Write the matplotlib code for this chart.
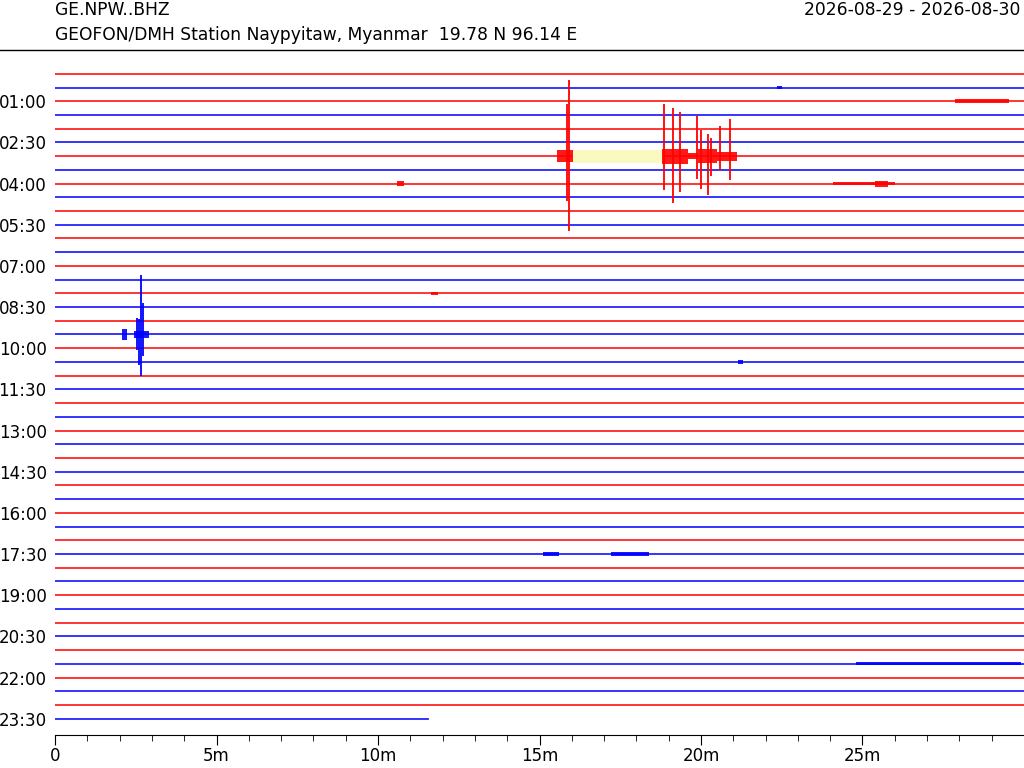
import matplotlib
matplotlib.use("Agg")
import matplotlib.pyplot as plt
from matplotlib.lines import Line2D
from matplotlib.ticker import MultipleLocator

# 48 half-hour traces, even = red, odd = blue
n_lines = 48
last_line_end = 11.55  # minutes of data in the last trace
hour_labels = ["01:00", "02:30", "04:00", "05:30", "07:00", "08:30", "10:00", "11:30",
               "13:00", "14:30", "16:00", "17:30", "19:00", "20:30", "22:00", "23:30"]
label_lines = [2, 5, 8, 11, 14, 17, 20, 23, 26, 29, 32, 35, 38, 41, 44, 47]

# spikes: trace, minute, up, down (in trace spacings)
spike_line = [6, 6, 6, 6, 6, 6, 6, 6, 6, 6, 6, 19, 19, 19, 19]
spike_min = [15.91, 15.85, 18.85, 19.13, 19.35, 19.88, 20.0, 20.22, 20.31, 20.59, 20.90,
             2.65, 2.54, 2.72, 2.60]
spike_up = [5.55, 3.80, 3.80, 3.50, 3.20, 2.92, 1.90, 1.60, 1.32, 2.20, 2.70,
            4.30, 1.17, 2.33, 1.10]
spike_down = [5.45, 3.27, 2.47, 3.42, 2.62, 1.67, 2.40, 2.84, 1.45, 1.02, 1.75,
              3.06, 1.10, 1.60, 2.20]

# noisy bursts: trace, start, end, half width (in trace spacings)
burst_line = [6, 6, 6, 6, 6, 19, 19, 2, 8, 8, 8, 1, 35, 35, 43, 16, 21]
burst_t0 = [15.55, 18.80, 19.60, 19.90, 20.50, 2.08, 2.45, 27.85, 10.60, 24.10, 25.40, 22.35,
            15.10, 17.20, 24.80, 11.65, 21.15]
burst_t1 = [16.05, 19.60, 19.90, 20.50, 21.10, 2.23, 2.90, 29.55, 10.80, 26.00, 25.80, 22.50,
            15.60, 18.40, 29.90, 11.85, 21.30]
burst_hw = [0.42, 0.55, 0.20, 0.50, 0.32, 0.40, 0.28, 0.14, 0.20, 0.12, 0.22, 0.14,
            0.14, 0.12, 0.12, 0.12, 0.14]

# yellow marked window on the 03:00 trace
mark_line = 6
mark_t0, mark_t1 = 16.0, 18.82
mark_lo, mark_hi = -0.50, 0.45

fig = plt.figure(figsize=(10.24, 7.68), dpi=100)
ax = fig.add_axes([55 / 1024, 1 - 735 / 768, 1 - 55 / 1024, 680 / 768])

for i in range(n_lines):
    c = "red" if i % 2 == 0 else "blue"
    end = last_line_end if i == n_lines - 1 else 30
    ax.plot([0, end], [-i, -i], color=c, lw=1.3, alpha=0.85)

ax.fill_between([mark_t0, mark_t1], -mark_line + mark_lo, -mark_line + mark_hi,
                color="#fafac0", lw=0, zorder=3)

for ln, t0, t1, hw in zip(burst_line, burst_t0, burst_t1, burst_hw):
    c = "red" if ln % 2 == 0 else "blue"
    ax.fill_between([t0, t1], -ln - hw, -ln + hw, color=c, lw=0, alpha=0.9, zorder=4)

for ln, t, up, dn in zip(spike_line, spike_min, spike_up, spike_down):
    c = "red" if ln % 2 == 0 else "blue"
    ax.vlines(t, -ln - dn, -ln + up, color=c, lw=1.3, zorder=5)

ax.set_xlim(0, 30)
ax.set_ylim(-48.19, 1.37)
ax.set_yticks([-l for l in label_lines])
ax.set_yticklabels(hour_labels, fontsize=12)
ax.tick_params(axis="y", length=0, pad=6)
ax.xaxis.set_major_locator(MultipleLocator(5))
ax.xaxis.set_minor_locator(MultipleLocator(1))
ax.set_xticks([0, 5, 10, 15, 20, 25])
ax.set_xticklabels(["0", "5m", "10m", "15m", "20m", "25m"], fontsize=12)
ax.tick_params(axis="x", which="major", length=7.5, direction="out", pad=1)
ax.tick_params(axis="x", which="minor", length=4, direction="out")
for s in ["top", "left", "right"]:
    ax.spines[s].set_visible(False)

fig.add_artist(Line2D([0, 1], [1 - 50 / 768, 1 - 50 / 768], color="black", lw=1))
fig.text(55 / 1024, 1 - 10 / 768, "GE.NPW..BHZ", fontsize=12.3, va="center")
fig.text(55 / 1024, 1 - 35 / 768, "GEOFON/DMH Station Naypyitaw, Myanmar  19.78 N 96.14 E",
         fontsize=12.3, va="center")
fig.text(1020 / 1024, 1 - 10 / 768, "2026-08-29 - 2026-08-30", fontsize=12.3,
         va="center", ha="right")

fig.savefig("out.png", dpi=100)
